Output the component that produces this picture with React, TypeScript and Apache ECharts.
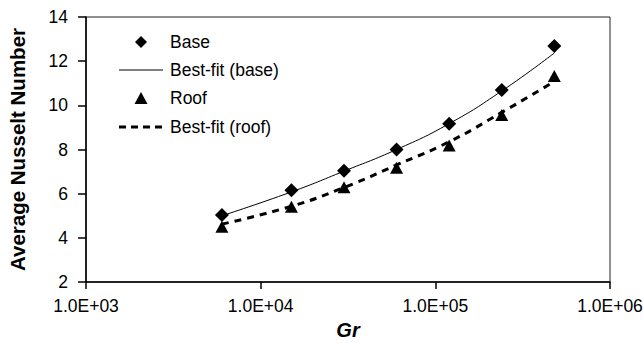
import React, { useEffect, useRef } from "react";
import * as echarts from "echarts";

const grValues = [6000, 15000, 30000, 60000, 120000, 240000, 480000];
const baseNu = [5.03, 6.15, 7.04, 8.0, 9.17, 10.69, 12.69];
const baseFit = [5.0, 6.08, 7.02, 8.0, 9.17, 10.65, 12.37];
const roofNu = [4.5, 5.41, 6.29, 7.17, 8.18, 9.56, 11.33];
const roofFit = [4.62, 5.43, 6.28, 7.3, 8.35, 9.68, 11.08];
const seriesNames = ["Base", "Best-fit (base)", "Roof", "Best-fit (roof)"];
const yTicks = { min: 2, max: 14, interval: 2 };
const xRange = { min: 1000, max: 1000000 };

const FONT = "Arial, 'Liberation Sans', Helvetica, sans-serif";

function pairs(xs: number[], ys: number[]) {
  return xs.map((x, i) => [x, ys[i]]);
}

function sci(v: number) {
  const e = Math.round(Math.log10(v));
  const m = v / Math.pow(10, e);
  const es = (e < 10 ? "0" : "") + e;
  return m.toFixed(1) + "E+" + es;
}

// custom legend (icons drawn as graphic shapes)
const LEG_X = 119;
const LEG_W = 44;
const LEG_ROWS = [42, 70, 98, 127];
const LEG_TEXT_X = 170;

function legendGraphic() {
  const cx = LEG_X + LEG_W / 2;
  const icons: any[] = [
    {
      type: "polygon",
      shape: { points: [[cx, LEG_ROWS[0] - 6], [cx + 6, LEG_ROWS[0]], [cx, LEG_ROWS[0] + 6], [cx - 6, LEG_ROWS[0]]] },
      style: { fill: "#000" },
    },
    {
      type: "line",
      shape: { x1: LEG_X, y1: LEG_ROWS[1], x2: LEG_X + LEG_W, y2: LEG_ROWS[1] },
      style: { stroke: "#000", lineWidth: 1 },
    },
    {
      type: "polygon",
      shape: { points: [[cx, LEG_ROWS[2] - 6], [cx + 6.5, LEG_ROWS[2] + 6], [cx - 6.5, LEG_ROWS[2] + 6]] },
      style: { fill: "#000" },
    },
    {
      type: "line",
      shape: { x1: LEG_X, y1: LEG_ROWS[3], x2: LEG_X + LEG_W, y2: LEG_ROWS[3] },
      style: { stroke: "#000", lineWidth: 3, lineDash: [7, 5] },
    },
  ];
  const texts = seriesNames.map((n, i) => ({
    type: "text",
    x: LEG_TEXT_X,
    y: LEG_ROWS[i],
    style: {
      text: n,
      fill: "#000",
      font: `17.5px ${FONT}`,
      textAlign: "left",
      textVerticalAlign: "middle",
    },
  }));
  return [...icons, ...texts];
}

export default function App() {
  const ref = useRef<HTMLDivElement>(null);
  useEffect(() => {
    if (!ref.current) return;
    const chart = echarts.init(ref.current, null, { renderer: "svg" });
    chart.setOption({
      animation: false,
      backgroundColor: "#fff",
      grid: {
        left: 86,
        right: 33,
        top: 17,
        bottom: 62,
        show: true,
        borderColor: "#222",
        borderWidth: 1,
        containLabel: false,
        outerBoundsMode: "none",
      },
      graphic: legendGraphic(),
      xAxis: {
        type: "log",
        logBase: 10,
        min: xRange.min,
        max: xRange.max,
        name: "Gr",
        nameLocation: "middle",
        nameGap: 38,
        nameTextStyle: {
          fontFamily: FONT,
          fontSize: 20,
          fontWeight: "bold",
          fontStyle: "italic",
          color: "#000",
        },
        axisLine: { lineStyle: { color: "#000", width: 1.5 } },
        axisTick: { show: true, length: 7, lineStyle: { color: "#000", width: 1.5 } },
        axisLabel: {
          fontFamily: FONT,
          fontSize: 17.5,
          color: "#000",
          margin: 15,
          formatter: (v: number) => sci(v),
        },
        splitLine: { show: false },
        minorTick: { show: false },
      },
      yAxis: {
        type: "value",
        min: yTicks.min,
        max: yTicks.max,
        interval: yTicks.interval,
        name: "Average Nusselt Number",
        nameLocation: "middle",
        nameGap: 58,
        nameTextStyle: {
          fontFamily: FONT,
          fontSize: 20.5,
          fontWeight: "bold",
          color: "#000",
        },
        axisLine: { show: true, lineStyle: { color: "#000", width: 1.5 } },
        axisTick: { show: true, length: 8, lineStyle: { color: "#000", width: 1.5 } },
        axisLabel: { fontFamily: FONT, fontSize: 17.5, color: "#000", margin: 18 },
        splitLine: { show: false },
      },
      series: [
        {
          name: seriesNames[0],
          type: "scatter",
          symbol: "diamond",
          symbolSize: 14,
          itemStyle: { color: "#000", opacity: 1 },
          data: pairs(grValues, baseNu),
          z: 5,
        },
        {
          name: seriesNames[1],
          type: "line",
          smooth: true,
          symbol: "none",
          lineStyle: { color: "#000", width: 1 },
          itemStyle: { color: "#000" },
          data: pairs(grValues, baseFit),
          z: 3,
        },
        {
          name: seriesNames[2],
          type: "scatter",
          symbol: "triangle",
          symbolSize: [13, 12],
          itemStyle: { color: "#000", opacity: 1 },
          data: pairs(grValues, roofNu),
          z: 5,
        },
        {
          name: seriesNames[3],
          type: "line",
          smooth: true,
          symbol: "none",
          lineStyle: { color: "#000", width: 3, type: [7, 6] },
          itemStyle: { color: "#000" },
          data: pairs(grValues, roofFit),
          z: 3,
        },
      ],
    });
    return () => chart.dispose();
  }, []);
  return (
    <div
      ref={ref}
      style={{ position: "fixed", left: 0, top: 0, width: 643, height: 344, background: "#fff" }}
    />
  );
}
